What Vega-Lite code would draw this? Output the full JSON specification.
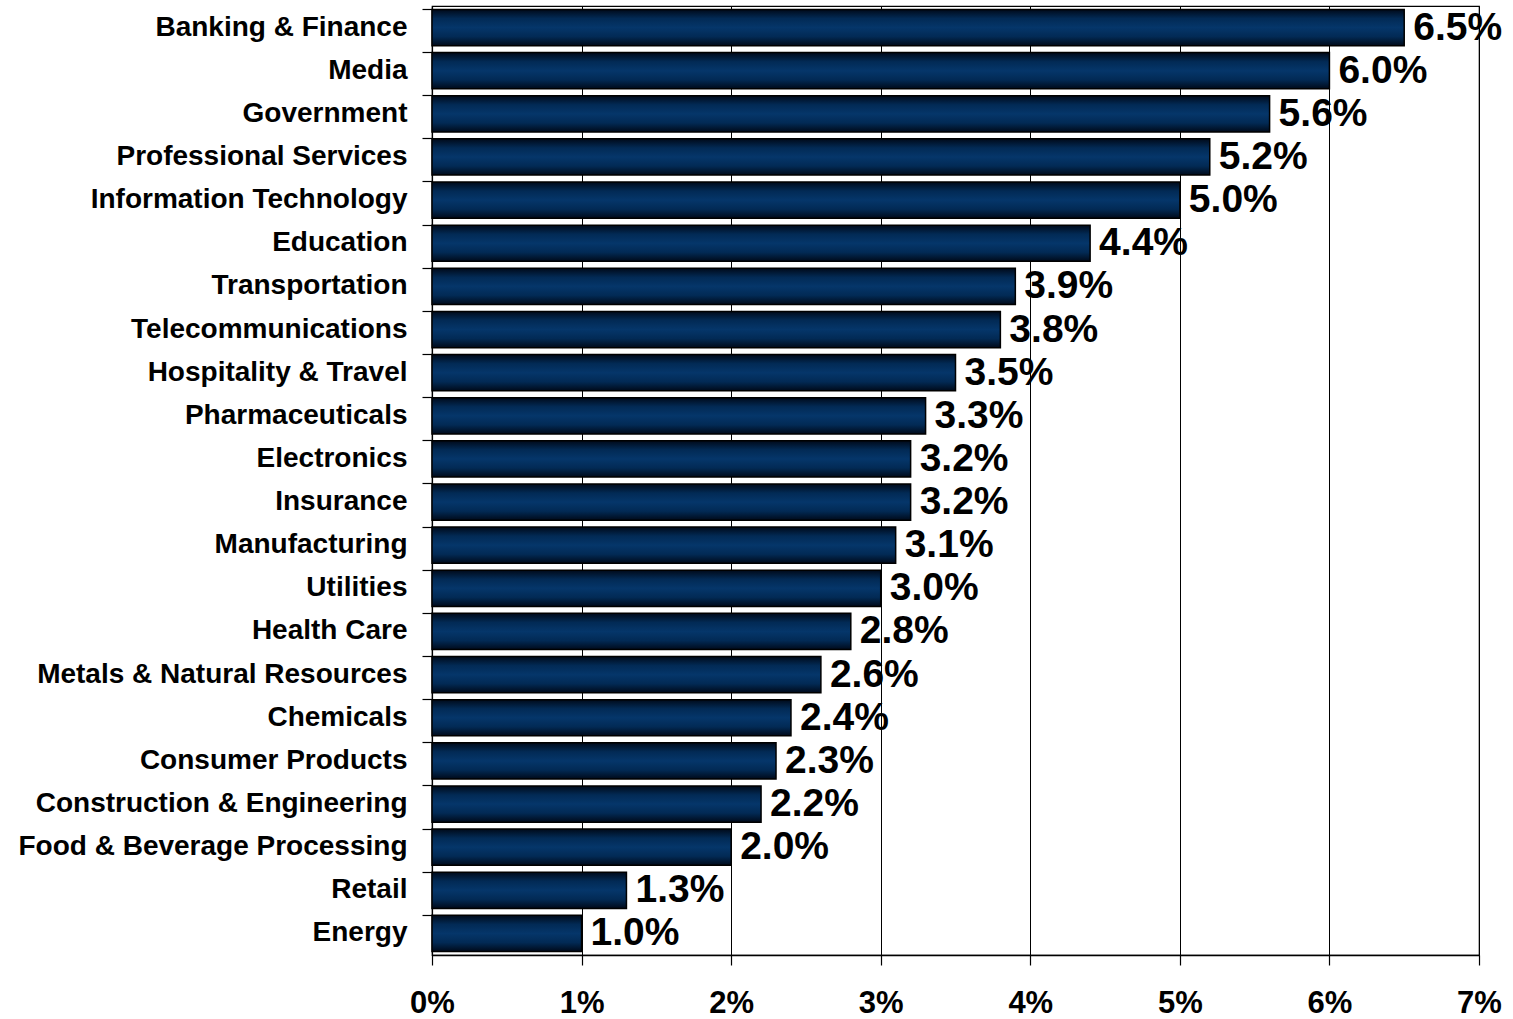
{
  "$schema": "https://vega.github.io/schema/vega-lite/v6.json",
  "autosize": {"type": "none"},
  "padding": {"left": 432, "top": 6, "right": 34, "bottom": 64},
  "width": 1047,
  "height": 949,
  "background": "white",
  "config": {
    "font": "Liberation Sans",
    "view": {"stroke": "black", "strokeWidth": 1.2}
  },
  "data": {
    "values": [
      {"industry": "Banking & Finance", "share": 0.065},
      {"industry": "Media", "share": 0.060},
      {"industry": "Government", "share": 0.056},
      {"industry": "Professional Services", "share": 0.052},
      {"industry": "Information Technology", "share": 0.050},
      {"industry": "Education", "share": 0.044},
      {"industry": "Transportation", "share": 0.039},
      {"industry": "Telecommunications", "share": 0.038},
      {"industry": "Hospitality & Travel", "share": 0.035},
      {"industry": "Pharmaceuticals", "share": 0.033},
      {"industry": "Electronics", "share": 0.032},
      {"industry": "Insurance", "share": 0.032},
      {"industry": "Manufacturing", "share": 0.031},
      {"industry": "Utilities", "share": 0.030},
      {"industry": "Health Care", "share": 0.028},
      {"industry": "Metals & Natural Resources", "share": 0.026},
      {"industry": "Chemicals", "share": 0.024},
      {"industry": "Consumer Products", "share": 0.023},
      {"industry": "Construction & Engineering", "share": 0.022},
      {"industry": "Food & Beverage Processing", "share": 0.020},
      {"industry": "Retail", "share": 0.013},
      {"industry": "Energy", "share": 0.010}
    ]
  },
  "encoding": {
    "y": {
      "field": "industry",
      "type": "nominal",
      "sort": null,
      "scale": {"paddingInner": 0.16, "paddingOuter": 0.08},
      "axis": {
        "title": null,
        "bandPosition": 0,
        "labelFontSize": 28,
        "labelFontWeight": "bold",
        "labelColor": "black",
        "labelLimit": 600,
        "labelPadding": 15,
        "tickSize": 10,
        "tickColor": "black",
        "tickWidth": 1.2,
        "domainColor": "black",
        "domainWidth": 1.2,
        "grid": false
      }
    },
    "x": {
      "field": "share",
      "type": "quantitative",
      "scale": {"domain": [0, 0.07], "nice": false},
      "axis": {
        "title": null,
        "values": [0, 0.01, 0.02, 0.03, 0.04, 0.05, 0.06, 0.07],
        "format": ".0%",
        "labelFlush": false,
        "labelFontSize": 31,
        "labelFontWeight": "bold",
        "labelColor": "black",
        "labelPadding": 23,
        "tickSize": 10,
        "tickColor": "black",
        "tickWidth": 1.2,
        "domainColor": "black",
        "domainWidth": 1.5,
        "grid": true,
        "gridColor": "black",
        "gridOpacity": 1,
        "gridWidth": 1
      }
    }
  },
  "layer": [
    {
      "mark": {
        "type": "bar",
        "stroke": "black",
        "strokeWidth": 1.5,
        "color": {
          "gradient": "linear",
          "x1": 0, "y1": 0, "x2": 0, "y2": 1,
          "stops": [
            {"offset": 0, "color": "#000a1a"},
            {"offset": 0.25, "color": "#022a55"},
            {"offset": 0.5, "color": "#05366a"},
            {"offset": 0.75, "color": "#022a55"},
            {"offset": 1, "color": "#000a1a"}
          ]
        }
      }
    },
    {
      "mark": {
        "type": "text",
        "align": "left",
        "baseline": "middle",
        "dx": 9,
        "fontSize": 39,
        "fontWeight": "bold",
        "color": "black"
      },
      "encoding": {
        "text": {"field": "share", "type": "quantitative", "format": ".1%"}
      }
    }
  ]
}
